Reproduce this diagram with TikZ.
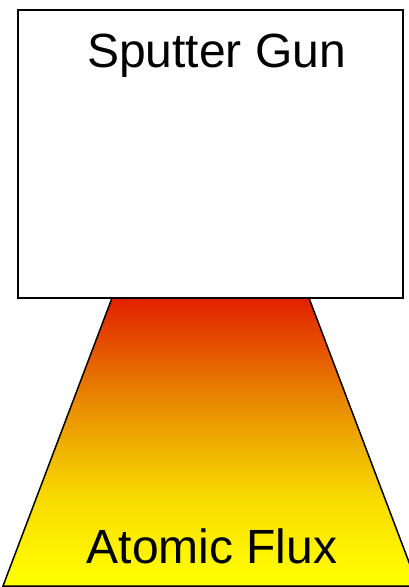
\documentclass[tikz,border=0pt]{standalone}
\usepackage{fontspec}
\setmainfont{Liberation Sans}
\definecolor{fluxA}{RGB}{255,246,0}
\definecolor{fluxB}{RGB}{248,220,0}
\definecolor{fluxC}{RGB}{240,180,0}
\definecolor{fluxD}{RGB}{232,136,0}
\definecolor{fluxE}{RGB}{230,96,0}
\definecolor{fluxF}{RGB}{226,32,0}
\pgfdeclareverticalshading{fluxshade}{100bp}{
  color(0bp)=(yellow);
  color(25bp)=(yellow);
  color(29.5bp)=(fluxA);
  color(40bp)=(fluxB);
  color(48.6bp)=(fluxC);
  color(57.3bp)=(fluxD);
  color(64.2bp)=(fluxE);
  color(75bp)=(fluxF);
  color(100bp)=(fluxF)}
\begin{document}
\begin{tikzpicture}[x=1pt,y=-1pt,
  edge/.style={draw=black,line width=1.5pt},
  label/.style={font=\fontsize{48}{48}\selectfont,anchor=base,inner sep=0pt}]
\useasboundingbox (0,0) rectangle (409,587);
\clip (0,0) rectangle (409,587);
% atomic flux trapezoid
\path[edge,line join=miter,shading=fluxshade]
  (112,298) -- (309,298) -- (418,586) -- (3,586) -- cycle;
% sputter gun box
\path[edge,line width=1.8pt,fill=white] (18,10) rectangle (403,298);
\node[label] (gun) at (216.5,67) {Sputter Gun};
\node[label] (flux) at (212,563) {Atomic Flux};
\end{tikzpicture}
\end{document}
